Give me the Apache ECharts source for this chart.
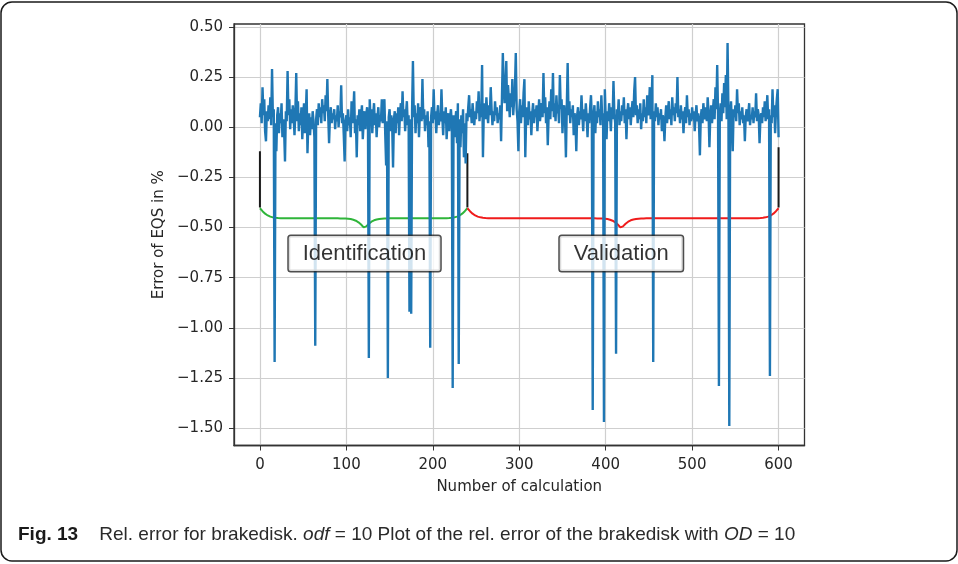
<!DOCTYPE html>
<html>
<head>
<meta charset="utf-8">
<script src="https://cdn.jsdelivr.net/npm/echarts@6/dist/echarts.min.js"></script>
<style>
  html, body { margin: 0; padding: 0; background: #fff; }
  #chart { width: 958px; height: 564px; }
</style>
</head>
<body>
<div id="chart"></div>
<script>
// relative EQS error per calculation (index = number of calculation)
const errorValues = [
  0.05, 0.12, 0.02, 0.20, 0.06, 0.14, -0.02, -0.07, 0.08, 0.03, 0.11, 0.04, 0.15, 0.01, 0.29, 0.05, 0.09, -1.17, 0.02, -0.12,
  0.06, 0.10, -0.03, 0.07, 0.02, 0.12, -0.05, 0.04, -0.02, -0.17, 0.08, 0.03, 0.28, 0.06, 0.14, -0.01, 0.09, 0.02, 0.11, 0.05,
  -0.04, 0.08, 0.27, 0.03, 0.13, -0.02, 0.07, 0.01, 0.10, -0.06, 0.04, 0.12, -0.03, 0.06, 0.19, -0.13, 0.02, 0.07, -0.04, 0.05,
  -0.01, 0.08, 0.03, -0.05, -1.09, 0.04, 0.09, 0.01, 0.12, 0.05, 0.10, 0.02, 0.14, 0.07, 0.11, 0.03, 0.16, 0.08, 0.24, 0.06,
  -0.08, 0.05, 0.10, 0.02, 0.07, 0.04, 0.09, -0.01, 0.06, 0.03, 0.11, 0.00, 0.08, 0.05, 0.21, 0.02, 0.07, -0.04, -0.17, 0.03,
  0.06, -0.02, 0.09, 0.01, 0.05, -0.05, 0.13, 0.02, 0.07, 0.18, -0.03, 0.04, -0.15, 0.06, 0.01, 0.09, -0.02, 0.05, 0.11, -0.06,
  0.03, 0.08, -0.01, 0.06, 0.10, 0.02, -1.15, 0.14, 0.04, 0.09, -0.03, 0.06, 0.12, 0.01, 0.07, -0.05, 0.05, 0.10, 0.00, 0.06,
  0.03, 0.14, 0.02, 0.08, 0.14, -0.04, -0.19, 0.03, -1.25, 0.05, 0.09, -0.02, 0.06, 0.01, -0.20, 0.04, 0.08, -0.03, 0.07, 0.02,
  0.10, -0.04, 0.06, 0.12, 0.03, 0.18, 0.05, 0.09, -0.02, 0.07, 0.13, 0.01, 0.06, -0.92, 0.04, -0.93, 0.08, 0.33, 0.05, 0.11,
  -0.03, 0.07, 0.02, 0.12, -0.05, 0.06, 0.10, 0.03, 0.24, 0.04, 0.09, -0.02, 0.06, 0.01, 0.08, -0.10, 0.03, -1.10, 0.05, 0.10,
  0.02, 0.19, 0.04, 0.08, -0.03, 0.06, 0.11, 0.01, 0.07, 0.03, 0.19, 0.05, -0.04, 0.08, 0.02, 0.10, -0.06, 0.04, 0.07, -0.02,
  0.05, 0.09, 0.01, -1.30, 0.06, -0.05, 0.03, 0.08, -0.08, 0.12, -1.18, 0.04, -0.10, 0.06, -0.03, 0.09, -0.15, 0.02, -0.18, 0.07,
  0.03, 0.10, 0.16, 0.05, 0.09, 0.02, 0.12, 0.06, 0.01, 0.08, 0.04, 0.13, 0.07, 0.18, 0.03, 0.10, 0.05, 0.31, -0.15, 0.08,
  0.12, 0.04, 0.15, 0.07, 0.02, 0.11, 0.06, 0.20, 0.09, 0.01, 0.08, 0.03, 0.13, 0.06, 0.10, 0.02, 0.07, 0.04, 0.11, -0.07,
  0.15, 0.37, 0.22, 0.12, 0.18, 0.33, 0.08, 0.21, 0.14, 0.05, 0.17, 0.10, 0.24, 0.06, 0.13, 0.19, 0.37, 0.09, 0.03, -0.12,
  0.08, 0.14, 0.02, 0.11, 0.05, 0.17, 0.24, -0.15, 0.06, 0.10, 0.01, 0.13, 0.04, 0.08, -0.04, 0.07, 0.12, 0.02, 0.09, 0.05,
  0.11, -0.02, 0.06, 0.14, 0.03, 0.08, 0.12, 0.05, 0.27, 0.07, 0.15, 0.02, 0.10, -0.09, 0.06, 0.13, 0.04, 0.19, 0.08, 0.27,
  0.05, 0.12, 0.03, 0.16, 0.07, 0.10, 0.02, 0.26, 0.09, 0.14, -0.03, 0.08, 0.11, 0.04, -0.15, 0.10, 0.32, 0.06, 0.13, 0.02,
  0.09, 0.05, 0.11, -0.04, 0.07, 0.03, -0.12, 0.06, 0.10, 0.01, 0.08, 0.04, 0.16, 0.06, -0.02, 0.09, 0.03, 0.12, 0.05, -0.05,
  0.07, 0.02, 0.10, 0.16, 0.04, -1.41, 0.06, 0.11, -0.03, 0.08, 0.02, 0.13, 0.05, 0.09, 0.01, 0.16, 0.04, 0.07, -1.47, 0.19,
  0.05, -0.06, 0.08, 0.03, 0.12, 0.06, -0.02, 0.10, 0.04, 0.23, 0.07, 0.02, -1.13, 0.09, 0.05, 0.14, 0.01, 0.08, 0.03, 0.11,
  0.06, 0.15, 0.02, 0.09, -0.06, 0.07, 0.12, 0.04, 0.10, 0.01, 0.08, 0.13, 0.05, 0.18, 0.25, 0.06, 0.11, 0.02, 0.09, 0.04,
  0.12, -0.01, 0.07, 0.03, 0.14, 0.05, 0.10, 0.02, 0.16, 0.06, 0.09, 0.20, 0.04, 0.11, 0.26, -1.17, 0.08, 0.03, 0.12, 0.05,
  0.10, 0.01, 0.07, 0.04, 0.09, -0.02, 0.06, 0.03, -0.07, 0.05, 0.11, 0.02, 0.08, 0.13, 0.04, 0.09, 0.01, 0.15, 0.06, 0.10,
  0.03, 0.12, 0.07, 0.25, 0.05, 0.09, 0.02, 0.11, 0.04, 0.08, -0.03, 0.06, 0.10, 0.02, 0.16, 0.05, 0.09, 0.01, 0.07, 0.03,
  0.10, 0.04, 0.08, -0.02, 0.06, 0.11, 0.03, 0.07, 0.01, -0.14, 0.05, 0.09, 0.02, 0.12, 0.06, 0.04, 0.10, 0.03, 0.15, 0.07,
  -0.10, 0.05, 0.11, 0.02, 0.08, 0.14, 0.04, 0.20, 0.09, 0.31, 0.06, -1.29, 0.05, 0.12, 0.03, 0.17, 0.07, 0.22, 0.10, 0.26,
  0.04, 0.42, 0.08, -1.49, 0.06, 0.13, 0.02, -0.12, 0.09, 0.05, 0.11, 0.03, 0.19, 0.07, 0.12, 0.01, 0.08, 0.04, 0.10, 0.02,
  0.06, -0.07, 0.05, 0.09, 0.03, 0.07, 0.12, 0.01, 0.06, 0.04, 0.10, 0.02, 0.08, 0.05, 0.17, 0.03, 0.09, 0.06, -0.08, 0.04,
  0.07, 0.02, 0.10, 0.05, 0.13, 0.03, 0.08, 0.16, 0.04, 0.09, -1.24, 0.06, 0.02, 0.19, 0.05, 0.11, -0.03, 0.08, 0.14, 0.19,
  -0.05
];

const xTicks = [0, 100, 200, 300, 400, 500, 600];
const yTicks = [-1.5, -1.25, -1.0, -0.75, -0.5, -0.25, 0, 0.25, 0.5];

// phase boundaries (calculation numbers) and where the black markers start
const phaseBounds = [0, 240, 600];
const markerTops = [-0.12, -0.13, -0.10];
const phaseNames = ['Identification', 'Validation'];
const braceTips = [121, 418];
const braceColors = ['#2fb53a', '#f01b1b'];

const markerBottom = -0.40;
const labelY = -0.63;

// sigmoid curly brace between x0 and x1 with its tip at xm
function brace(x0, x1, xm, yEnd, depth) {
  const beta = 0.2;
  const sig = t => 1 / (1 + Math.exp(-t));
  const pts = [];
  for (let x = x0; x <= x1; x += 1) {
    let s;
    if (x <= xm) s = sig(beta * (x - x0)) + sig(beta * (x - xm));
    else s = sig(beta * (x1 - x)) + sig(beta * (xm - x));
    pts.push([x, yEnd - depth * (s - 0.5)]);
  }
  return pts;
}

const chart = echarts.init(document.getElementById('chart'));
const tickFont = { fontFamily: 'DejaVu Sans', fontSize: 15, color: '#262626' };
const fmtY = v => (v < 0 ? '\u2212' : '') + Math.abs(v).toFixed(2);

const series = [];
// black phase markers
phaseBounds.forEach((x, i) => {
  series.push({
    type: 'line', data: [[x, markerTops[i]], [x, markerBottom]],
    showSymbol: false, silent: true, z: 3,
    lineStyle: { color: '#1a1a1a', width: 2 }
  });
});
// braces
for (let i = 0; i < 2; i++) {
  series.push({
    type: 'line', data: brace(phaseBounds[i], phaseBounds[i + 1], braceTips[i], markerBottom - 0.004, 0.10),
    showSymbol: false, silent: true, z: 3,
    lineStyle: { color: braceColors[i], width: 2 }
  });
}
series.push({
  type: 'line',
  data: errorValues.map((v, i) => [i, v]),
  showSymbol: false,
  sampling: 'none',
  z: 4,
  lineStyle: { color: '#1f77b4', width: 2.4 }
});
// text boxes
phaseNames.forEach((name, i) => {
  series.push({
    type: 'scatter', data: [[braceTips[i], labelY]], symbolSize: 0, z: 10, silent: true,
    label: {
      show: true, position: [0, 0], align: 'center', verticalAlign: 'middle', formatter: name,
      fontFamily: 'Liberation Sans', fontSize: 22, color: '#000', textBorderWidth: 0,
      backgroundColor: '#fff', borderColor: '#222', borderWidth: 1.5, borderRadius: 2,
      padding: [7, 14, 6, 14]
    }
  });
});

chart.setOption({
  animation: false,
  backgroundColor: '#fff',
  grid: {
    left: 234, right: 153.5, top: 24, bottom: 118.5,
    show: true, borderColor: '#333', borderWidth: 1.3, backgroundColor: 'transparent'
  },
  xAxis: {
    type: 'value', min: -30, max: 630,
    name: 'Number of calculation', nameLocation: 'middle', nameGap: 34,
    nameTextStyle: tickFont,
    axisLine: { show: true, onZero: false, lineStyle: { color: '#333', width: 1.3 } },
    axisTick: { show: true, inside: false, length: 5, customValues: xTicks, lineStyle: { color: '#333' } },
    axisLabel: { ...tickFont, margin: 12, customValues: xTicks, formatter: v => String(v) },
    splitLine: { show: true, lineStyle: { color: '#cfcfcf', width: 1.2 } }
  },
  yAxis: {
    type: 'value', min: -1.587, max: 0.515,
    name: 'Error of EQS in %', nameLocation: 'middle', nameGap: 65, nameRotate: 90,
    nameTextStyle: tickFont,
    axisLine: { show: true, onZero: false, lineStyle: { color: '#333', width: 1.3 } },
    axisTick: { show: true, inside: false, length: 5, customValues: yTicks, lineStyle: { color: '#333' } },
    axisLabel: { ...tickFont, margin: 11, customValues: yTicks, formatter: fmtY },
    splitLine: { show: true, lineStyle: { color: '#cfcfcf', width: 1.2 } }
  },
  series: series,
  graphic: [
    {
      type: 'rect', silent: true, z: 100,
      shape: { x: 1, y: 2, width: 956, height: 559, r: 11 },
      style: { fill: 'none', stroke: '#1a1a1a', lineWidth: 1.5 }
    },
    {
      type: 'text', left: 18, top: 525, silent: true,
      style: {
        text: '{b|Fig. 13}    Rel. error for brakedisk. {i|odf} = 10 Plot of the rel. error of the brakedisk with {i|OD} = 10',
        font: '19px "Liberation Sans"', fill: '#2a2a2a',
        rich: {
          b: { fontWeight: 'bold', fontSize: 19, fontFamily: 'Liberation Sans', fill: '#1a1a1a' },
          i: { fontStyle: 'italic', fontSize: 19, fontFamily: 'Liberation Sans', fill: '#2a2a2a' }
        }
      }
    }
  ]
});
</script>
</body>
</html>
